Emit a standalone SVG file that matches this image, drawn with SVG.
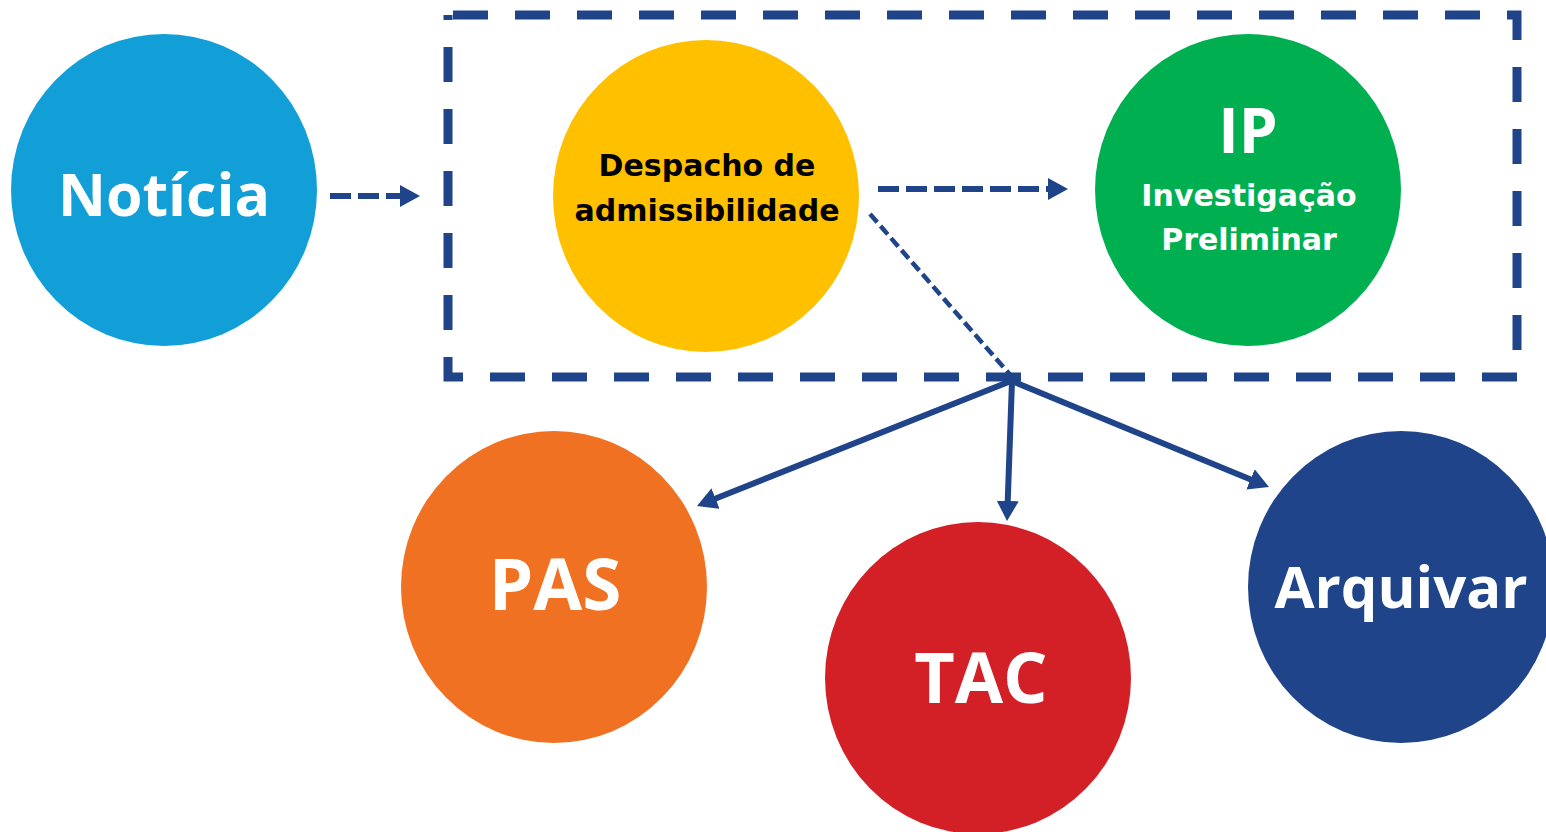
<svg xmlns="http://www.w3.org/2000/svg" width="1546" height="832" viewBox="0 0 1546 832">
<defs>
<style>
.lbl{font-family:"Open Sans","Liberation Sans",sans-serif;font-weight:700;text-anchor:middle;fill:#ffffff}
.sm{font-family:"DejaVu Sans","Open Sans",sans-serif;font-size:30px}
.dark{fill:#000000}
.conn{stroke:#1F4489;fill:none}
</style>
<marker id="ah" viewBox="0 0 20 22" refX="12" refY="11" markerWidth="20" markerHeight="22" orient="auto" markerUnits="userSpaceOnUse">
<path d="M0,0 L20,11 L0,22 z" fill="#1F4489"/>
</marker>
</defs>
<rect width="1546" height="832" fill="#ffffff"/>
<g id="grupo">
<rect x="448" y="15" width="1069" height="362" fill="none" stroke="#1F4489" stroke-width="9" stroke-dasharray="35 27" stroke-dashoffset="-5"/>
</g>
<g id="noticia">
<ellipse cx="164" cy="190" rx="153" ry="156" fill="#129FD7"/>
<text class="lbl" x="164" y="216" font-size="59">Notícia</text>
</g>
<g id="despacho">
<ellipse cx="706" cy="196" rx="153" ry="156" fill="#FFC000"/>
<text class="lbl sm dark" x="707" y="176">Despacho de</text>
<text class="lbl sm dark" x="707" y="221">admissibilidade</text>
</g>
<g id="ip">
<ellipse cx="1248" cy="190" rx="153" ry="156" fill="#00B050"/>
<text class="lbl" x="1248" y="153" font-size="62">IP</text>
<text class="lbl sm" x="1249" y="206">Investigação</text>
<text class="lbl sm" x="1249" y="250">Preliminar</text>
</g>
<g id="pas">
<ellipse cx="554" cy="587" rx="153" ry="156" fill="#F07122"/>
<text class="lbl" x="555" y="610" font-size="71">PAS</text>
</g>
<g id="tac">
<ellipse cx="978" cy="678" rx="153" ry="156" fill="#D32027"/>
<text class="lbl" x="981" y="703" font-size="70">TAC</text>
</g>
<g id="arquivar">
<ellipse cx="1401" cy="587" rx="153" ry="156" fill="#1F4489"/>
<text class="lbl" x="1401" y="608" font-size="58">Arquivar</text>
</g>
<g id="connectors">
<line class="conn" x1="330" y1="196" x2="412" y2="196" stroke-width="6" stroke-dasharray="21 7" marker-end="url(#ah)"/>
<line class="conn" x1="878" y1="189" x2="1060" y2="189" stroke-width="6" stroke-dasharray="21 7" marker-end="url(#ah)"/>
<line class="conn" x1="870" y1="214" x2="1012" y2="377" stroke-width="4.5" stroke-dasharray="11 5"/>
<line class="conn" x1="1011" y1="381" x2="704.4" y2="503" stroke-width="6" marker-end="url(#ah)"/>
<line class="conn" x1="1012" y1="381" x2="1007.3" y2="513" stroke-width="6" marker-end="url(#ah)"/>
<line class="conn" x1="1012" y1="381" x2="1261.6" y2="484" stroke-width="6" marker-end="url(#ah)"/>
</g>
</svg>
